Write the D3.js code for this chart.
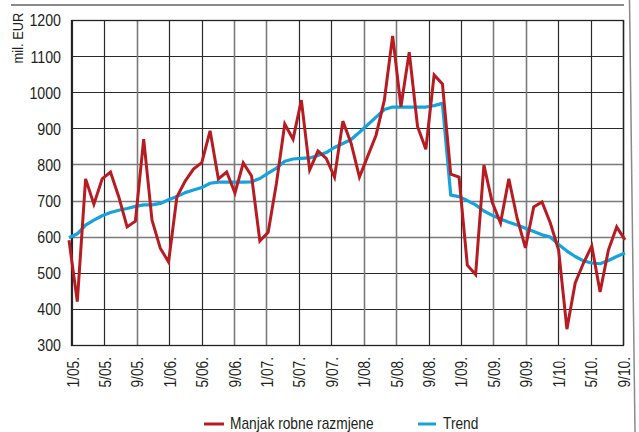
<!DOCTYPE html>
<meta charset="utf-8">
<title>Manjak robne razmjene</title>
<style>

    body {
        margin: 0;
        background: #fff;
    }

    text {
        font-family: "Liberation Sans", Arial, sans-serif;
        fill: #231f20;
    }

</style>
<body>
<script src="https://d3js.org/d3.v7.min.js"></script>
<script>

    // month labels on the x axis (every 4th month)
    var tickLabels = ["1/05.", "5/05.", "9/05.", "1/06.", "5/06.", "9/06.", "1/07.", "5/07.", "9/07.",
        "1/08.", "5/08.", "9/08.", "1/09.", "5/09.", "9/09.", "1/10.", "5/10.", "9/10."];

    var yTicks = d3.range(300, 1201, 100);

    // monthly values, mil. EUR
    var manjak = [590, 420, 760, 690, 760, 779, 710, 627, 643, 870,
        646, 568, 530, 710, 754, 787, 805, 893, 760, 779,
        721, 804, 768, 588, 612, 748, 912, 870, 978, 785,
        837, 817, 765, 920, 858, 765, 823, 881, 978, 1156,
        960, 1111, 905, 842, 1048, 1023, 773, 765, 521, 495,
        798, 695, 638, 760, 651, 569, 682, 696, 638, 563,
        344, 472, 527, 574, 447, 563, 627, 591];

    var trend = [597, 608, 632, 646, 658, 667, 673, 678, 684, 688,
        688, 692, 702, 711, 722, 729, 736, 748, 751, 751,
        751, 751, 752, 761, 776, 790, 809, 815, 817, 818,
        825, 833, 847, 858, 869, 889, 910, 931, 952, 959,
        959, 959, 959, 959, 963, 969, 715, 711, 700, 688,
        671, 659, 649, 640, 632, 623, 614, 605, 599, 578,
        560, 545, 533, 527, 525, 534, 545, 555];

    var w = 639,
        h = 432,
        pLeft = 71,
        pRight = 623,
        pTop = 20,
        pBottom = 345,
        narrow = 0.86;   // condensed look of the original type

    var red = "#b71c22",
        blue = "#16a2dc";

    var svg = d3.select("body").append("svg")
        .attr("width", w)
        .attr("height", h);

    var x = d3.scaleLinear()
        .domain([0, manjak.length - 1])
        .range([69, 625]);

    var xLab = d3.scalePoint()
        .domain(tickLabels)
        .range([pLeft + 1, pRight]);

    var y = d3.scaleLinear()
        .domain([300, 1200])
        .range([pBottom, pTop]);

    // frame lines around the figure
    svg.append("line")
        .attr("x1", 11).attr("x2", pRight + 1)
        .attr("y1", 5).attr("y2", 5)
        .style("stroke", "#8a8a8a").style("stroke-width", 1.8);

    svg.append("line")
        .attr("x1", 629.5).attr("x2", 635)
        .attr("y1", 0).attr("y2", h)
        .style("stroke", "#8a8a8a").style("stroke-width", 1.5);

    // grid
    svg.append("g").selectAll("line")
        .data(yTicks)
        .enter().append("line")
        .attr("x1", pLeft).attr("x2", pRight)
        .attr("y1", function(d) { return Math.round(y(d)) + .5; })
        .attr("y2", function(d) { return Math.round(y(d)) + .5; })
        .style("stroke", function(d) { return d >= 600 && d <= 800 ? "#7a7a7a" : "#2a2a2a"; })
        .style("stroke-width", function(d) { return d >= 600 && d <= 800 ? 1.6 : 1.2; });

    svg.append("g").selectAll("line")
        .data(tickLabels)
        .enter().append("line")
        .attr("x1", function(d) { return Math.round(xLab(d)) + .5; })
        .attr("x2", function(d) { return Math.round(xLab(d)) + .5; })
        .attr("y1", pTop).attr("y2", pBottom)
        .style("stroke", function(d, i) { return (i % 4 == 2 || i % 4 == 1 && i > 4) ? "#7a7a7a" : "#2a2a2a"; })
        .style("stroke-width", function(d, i) { return (i % 4 == 2 || i % 4 == 1 && i > 4) ? 1.6 : 1.2; });

    // plot border
    svg.append("rect")
        .attr("x", pLeft + .5).attr("y", pTop + .5)
        .attr("width", pRight - pLeft).attr("height", pBottom - pTop)
        .style("fill", "none")
        .style("stroke", "#222")
        .style("stroke-width", 1.3);

    // y axis labels
    var yAxis = svg.append("g")
        .attr("transform", "translate(" + (pLeft - 10) + ",0)")
        .call(d3.axisLeft(y).tickValues(yTicks).tickSize(0).tickPadding(0).tickFormat(d3.format("d")));
    yAxis.select(".domain").remove();
    yAxis.selectAll("text")
        .style("font-size", "16.5px")
        .style("font-family", null)
        .attr("fill", "#231f20")
        .attr("x", 0)
        .attr("dy", "0.36em")
        .attr("transform", "scale(" + narrow + ",1)");

    svg.append("text")
        .attr("transform", "translate(23,38)rotate(-90)scale(" + narrow + ",1)")
        .attr("text-anchor", "middle")
        .style("font-size", "15px")
        .text("mil. EUR");

    // x axis labels, rotated
    var xAxis = svg.append("g")
        .attr("transform", "translate(0," + pBottom + ")")
        .call(d3.axisBottom(xLab).tickSize(0));
    xAxis.select(".domain").remove();
    xAxis.selectAll("text")
        .style("font-size", "16px")
        .style("font-family", null)
        .attr("fill", "#231f20")
        .attr("text-anchor", "end")
        .attr("y", 0)
        .attr("dy", 0)
        .attr("transform", "translate(6,12)rotate(-90)scale(" + narrow + ",1)");

    // series
    var line = d3.line()
        .x(function(d, i) { return x(i); })
        .y(function(d) { return y(d); });

    svg.append("path")
        .datum(trend)
        .attr("d", line)
        .style("fill", "none")
        .style("stroke", blue)
        .style("stroke-width", 3.2)
        .style("stroke-linejoin", "round");

    svg.append("path")
        .datum(manjak)
        .attr("d", line)
        .style("fill", "none")
        .style("stroke", red)
        .style("stroke-width", 3)
        .style("stroke-linejoin", "miter");

    // legend
    var legend = [{ name: "Manjak robne razmjene", color: red, x: 204 },
        { name: "Trend", color: blue, x: 418 }];

    var lg = svg.append("g").selectAll("g")
        .data(legend)
        .enter().append("g")
        .attr("transform", function(d) { return "translate(" + d.x + ",424)"; });

    lg.append("line")
        .attr("x1", 0).attr("x2", function(d, i) { return i ? 18 : 20; })
        .style("stroke", function(d) { return d.color; })
        .style("stroke-width", 3);

    lg.append("text")
        .attr("transform", function(d, i) { return "translate(" + (i ? 25 : 26) + ",5)scale(" + narrow + ",1)"; })
        .style("font-size", "16px")
        .text(function(d) { return d.name; });

</script>
